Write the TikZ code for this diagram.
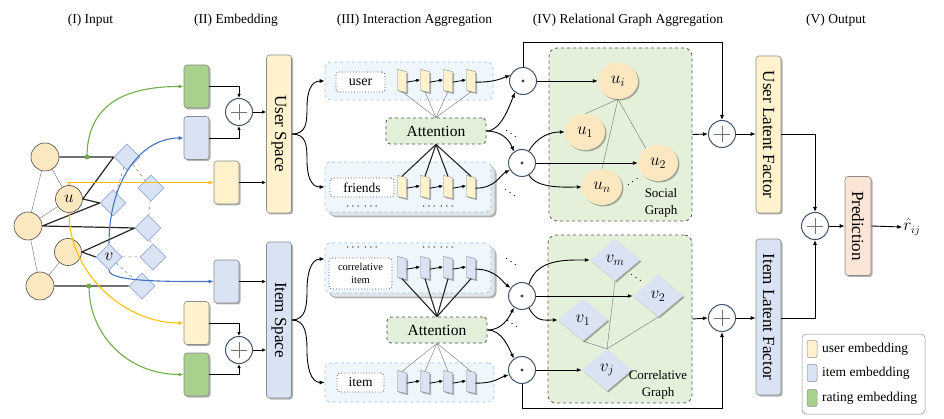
\documentclass[tikz,border=0pt]{standalone}
\usepackage{fontspec}
\setmainfont{Liberation Serif}
\usetikzlibrary{shapes.geometric,arrows.meta,shadows,calc}
\definecolor{ufill}{HTML}{FFF2CC}
\definecolor{cfill}{HTML}{FCE8C0}
\definecolor{ifill}{HTML}{DAE3F3}
\definecolor{gfill}{HTML}{A9D18E}
\definecolor{pfill}{HTML}{FBE5D6}
\definecolor{bord}{HTML}{8C8C8C}
\definecolor{opc}{HTML}{44546A}
\definecolor{ggreen}{HTML}{70AD47}
\definecolor{gblue}{HTML}{4472C4}
\definecolor{gyellow}{HTML}{FFC000}
\definecolor{dbord}{HTML}{8FAADC}
\definecolor{lbox}{HTML}{F0F7FC}
\definecolor{lboxb}{HTML}{9DC3E6}
\definecolor{graphg}{HTML}{E4F0DA}
\definecolor{attg}{HTML}{E2F0D9}
\tikzset{
  shad/.style={drop shadow={shadow xshift=1.5pt,shadow yshift=-1.5pt,opacity=0.3,fill=black}},
  ttl/.style={font=\fontsize{13.5}{15}\selectfont},
  emb/.style={rectangle,rounded corners=3pt,draw=bord,line width=0.6pt,minimum width=25pt,minimum height=43pt,inner sep=0pt,shad},
  vbox/.style={rectangle,rounded corners=3pt,draw=bord,line width=0.6pt,rotate=-90,minimum height=25pt,inner sep=0pt,font=\fontsize{17}{19}\selectfont,shad},
  incirc/.style={circle,draw=black!70,line width=0.6pt,fill=cfill,minimum size=28pt,inner sep=0pt,font=\fontsize{17}{19}\selectfont},
  indiam/.style={diamond,draw=dbord,line width=0.6pt,fill=ifill,minimum width=26pt,minimum height=26pt,inner sep=0pt,font=\fontsize{17}{19}\selectfont},
  opcirc/.style={circle,draw=opc,line width=1pt,fill=white,minimum size=27pt,inner sep=0pt},
  plusc/.style={opcirc,path picture={\draw[black!55,line width=0.6pt]
      ([xshift=-8pt]path picture bounding box.center) -- ([xshift=8pt]path picture bounding box.center)
      ([yshift=-8pt]path picture bounding box.center) -- ([yshift=8pt]path picture bounding box.center);}},
  dotc/.style={opcirc,path picture={\fill[black!75] (path picture bounding box.center) circle[radius=1.6pt];}},
  conn/.style={line width=0.9pt,-{Latex[length=5pt,width=4pt]}},
  sconn/.style={line width=0.8pt,-{Latex[length=4pt,width=3.5pt]}},
  thinln/.style={draw=black!55,line width=0.4pt},
  bk/.style={line width=1.2pt,black!85},
  thk/.style={line width=1.1pt,black!85},
  dsh/.style={draw=black!50,dashed,line width=0.5pt},
  gcurve/.style={draw=ggreen,line width=1.1pt,-{Latex[length=5pt,width=4pt]}},
  bcurve/.style={draw=gblue,line width=1.1pt,-{Latex[length=5pt,width=4pt]}},
  ycurve/.style={draw=gyellow,line width=1.1pt,-{Latex[length=5pt,width=4pt]}},
  ibox/.style={rectangle,rounded corners=6pt,draw=lboxb,dashed,line width=0.6pt,fill=lbox,inner sep=0pt},
  iback/.style={rectangle,rounded corners=6pt,draw=black!30,line width=0.6pt,fill=lbox!85!gray,inner sep=0pt,shad},
  lbl/.style={rectangle,rounded corners=3pt,draw=black!70,dotted,line width=0.8pt,fill=white,inner sep=0pt},
  slab/.style={rectangle,draw=black!45,line width=0.4pt,minimum width=9pt,minimum height=21pt,inner sep=0pt,yslant=-0.25,shad},
  attn/.style={rectangle,rounded corners=4pt,draw=black!70,dashed,line width=0.8pt,fill=attg,minimum width=100pt,minimum height=26pt,inner sep=0pt,font=\fontsize{15.5}{17}\selectfont},
  gbox/.style={rectangle,rounded corners=8pt,draw=black!65,dashed,line width=0.8pt,fill=graphg,inner sep=0pt},
  gell/.style={ellipse,fill=cfill,minimum width=40pt,minimum height=36pt,inner sep=0pt,font=\fontsize{18}{20}\selectfont,shad},
  gdiam/.style={diamond,fill=ifill,minimum width=50pt,minimum height=42pt,inner sep=0pt,font=\fontsize{18}{20}\selectfont,shad},
  gtxt/.style={align=center,font=\fontsize{13}{17}\selectfont,inner sep=0pt},
  dots/.style={font=\fontsize{13}{13}\selectfont,inner sep=0pt},
  swatch/.style={rectangle,rounded corners=2pt,draw=bord,line width=0.5pt,minimum width=10pt,minimum height=17pt,inner sep=0pt},
  legtxt/.style={anchor=west,font=\fontsize{13.5}{15}\selectfont,inner sep=0pt}
}
\begin{document}
\begin{tikzpicture}[x=1pt,y=-1pt]
\useasboundingbox (0,0) rectangle (944,419);
% titles
\node[ttl] (t1) at (90.5,20) {(I) Input};
\node[ttl] (t2) at (236,20) {(II) Embedding};
\node[ttl] (t3) at (414.5,20) {(III) Interaction Aggregation};
\node[ttl] (t4) at (628,20) {(IV) Relational Graph Aggregation};
\node[ttl] (t5) at (836,20) {(V) Output};

% ---------- input graph
\node[incirc] (A) at (45,157) {};
\node[incirc,minimum size=27pt] (U) at (69,199) {$u$};
\node[incirc] (B) at (28,226) {};
\node[incirc,minimum size=27pt] (C) at (68,252) {};
\node[incirc] (D) at (40,286) {};
\node[indiam] (d1) at (127,157) {};
\node[indiam] (d2) at (151,188) {};
\node[indiam] (d3) at (113,203) {};
\node[indiam] (d4) at (148,228) {};
\node[indiam] (dv) at (109,257) {$v$};
\node[indiam] (d6) at (153,257) {};
\node[indiam] (d7) at (142,286) {};
\draw[thinln] (A) -- (U) (A) -- (B) (U) -- (B) (B) -- (D) (C) -- (D);
\draw[bk] (A.east) -- (d1.west) (U.east) -- (d1.west) (U.east) -- (d3.west)
  (B.east) -- (d3.west) (B.east) -- (d4.west) (C.east) -- (d4.west) (C.east) -- (dv.west) (D.east) -- (d7.west);
\draw[dsh] (d1) -- (d2) (d1) -- (d3) (d2) -- (d4) (d4) -- (d6) (dv) -- (d6) (dv) -- (d7);
\coordinate (g1) at (87,157);
\coordinate (g2) at (89,286);
\fill[ggreen] (g1) circle[radius=2.5pt];
\fill[ggreen] (g2) circle[radius=2.5pt];

% ---------- embedding
\node[emb,fill=gfill] (ge1) at (196.5,86.5) {};
\node[emb,fill=ifill] (ie1) at (196.5,138) {};
\node[emb,fill=ufill] (ye1) at (226.5,182.5) {};
\node[plusc] (p1) at (239,112) {};
\node[emb,fill=ifill] (ie2) at (226.5,281.5) {};
\node[emb,fill=ufill] (ye2) at (196.5,323) {};
\node[emb,fill=gfill] (ge2) at (196.5,374.5) {};
\node[plusc] (p2) at (239,350) {};
\node[vbox,fill=ufill,minimum width=158pt] (US) at (279,134) {User Space};
\node[vbox,fill=ifill,minimum width=156pt] (IS) at (279,320) {Item Space};

% colored curves
\draw[gcurve] (g1) .. controls +(0,-55) and +(-55,0) .. (ge1.west);
\draw[bcurve] (dv.north) .. controls +(0,-60) and +(-45,0) .. (ie1.west);
\draw[bcurve] (dv.south) .. controls +(0,12) and +(-40,0) .. (ie2.west);
\draw[ycurve] (U.north) |- (ye1.west);
\draw[ycurve] (U.south) .. controls +(0,60) and +(-60,0) .. (ye2.west);
\draw[gcurve] (g2) .. controls +(0,50) and +(-55,0) .. (ge2.west);

\draw[sconn] (ge1.east) -| (p1.north);
\draw[sconn] (ie1.east) -| (p1.south);
\draw[sconn] (p1.east) -- (p1.east -| US.south);
\draw[sconn] (ye1.east) -- (ye1.east -| US.south);
\draw[sconn] (ie2.east) -- (ie2.east -| IS.south);
\draw[sconn] (ye2.east) -| (p2.north);
\draw[sconn] (ge2.east) -| (p2.south);
\draw[sconn] (p2.east) -- (p2.east -| IS.south);

% ---------- interaction boxes
\node[ibox,minimum width=168pt,minimum height=38pt] (ub) at (409,81) {};
\node[iback,minimum width=166pt,minimum height=50pt] (fbb) at (412,191) {};
\node[ibox,minimum width=166pt,minimum height=50pt] (fb) at (408,187) {};
\node[iback,minimum width=166pt,minimum height=50pt] (cbb) at (412,272) {};
\node[ibox,minimum width=166pt,minimum height=50pt] (cb) at (408,268) {};
\node[ibox,minimum width=169pt,minimum height=39pt] (ib) at (409.5,382.5) {};
\node[lbl,minimum width=49pt,minimum height=20pt,font=\fontsize{14}{16}\selectfont] (ul) at (360.5,82) {user};
\node[lbl,minimum width=64pt,minimum height=19pt,font=\fontsize{13.5}{15}\selectfont] (fl) at (362,187.5) {friends};
\node[lbl,minimum width=63pt,minimum height=31pt,align=center,font=\fontsize{10.5}{12.5}\selectfont] (cl) at (360.5,273.5) {correlative\\item};
\node[lbl,minimum width=47pt,minimum height=19pt,font=\fontsize{13.5}{15}\selectfont] (il) at (360.5,382.5) {item};
\node[dots] (fd1) at (362,207) {$\cdots\,\cdots$};
\node[dots] (fd2) at (438,207) {$\cdots\,\cdots$};
\node[dots] (cd1) at (362,248) {$\cdots\,\cdots$};
\node[dots] (cd2) at (438,248) {$\cdots\,\cdots$};
\foreach \i/\x in {1/402,2/425,3/448,4/471}{
  \node[slab,fill=ufill] (ur\i) at (\x,81) {};
  \node[slab,fill=ufill] (fr\i) at (\x,187) {};
  \node[slab,fill=ifill] (cr\i) at (\x,268) {};
  \node[slab,fill=ifill] (ir\i) at (\x,382) {};
}
\foreach \i/\j in {1/2,2/3,3/4}{
  \draw[sconn] (ur\i.east) -- (ur\j.west);
  \draw[sconn] (fr\i.east) -- (fr\j.west);
  \draw[sconn] (cr\i.east) -- (cr\j.west);
  \draw[sconn] (ir\i.east) -- (ir\j.west);
}
\node[attn] (at1) at (436,131) {Attention};
\node[attn] (at2) at (437,330) {Attention};
\foreach \i in {1,...,4}{
  \draw[thinln] (at1.north) -- (ur\i.south);
  \draw[thk] (at1.south) -- (fr\i.north);
  \draw[thk] (at2.north) -- (cr\i.south);
  \draw[thinln] (at2.south) -- (ir\i.north);
}
% braces
\coordinate (bu1) at (307,108);
\coordinate (bu2) at (307,160);
\coordinate (bi1) at (307,290);
\coordinate (bi2) at (307,351);
\draw[conn] (US.north) .. controls +(14,0) and +(0,16) .. (bu1) .. controls +(0,-16) and +(-14,0) .. (ub.west);
\draw[conn] (US.north) .. controls +(14,0) and +(0,-16) .. (bu2) .. controls +(0,16) and +(-14,0) .. (fb.west);
\draw[conn] (IS.north) .. controls +(14,0) and +(0,16) .. (bi1) .. controls +(0,-16) and +(-14,0) .. ([yshift=9pt]cb.west);
\draw[conn] (IS.north) .. controls +(14,0) and +(0,-16) .. (bi2) .. controls +(0,16) and +(-14,0) .. (ib.west);

% ---------- graph boxes
\node[gbox,minimum width=143pt,minimum height=173pt] (sg) at (620.5,134.5) {};
\node[gbox,minimum width=144pt,minimum height=168pt] (cg) at (620,319) {};

% dot circles
\node[dotc] (c1) at (523,81) {};
\node[dotc] (c2) at (522,163) {};
\node[dotc] (c3) at (522,296) {};
\node[dotc] (c4) at (522,370) {};
\draw[conn] (ur4.east) .. controls +(18,0) and +(-10,4) .. (c1.155);
\draw[conn] (at1.east) .. controls +(15,0) and +(-5,12) .. (c1.235);
\draw[conn] (at1.east) .. controls +(15,0) and +(-5,-12) .. (c2.125);
\draw[conn] (fr4.east) .. controls +(20,0) and +(-10,5) .. (c2.210);
\draw[conn] (cr4.east) .. controls +(20,0) and +(-8,-6) .. (c3.145);
\draw[conn] (at2.east) .. controls +(15,0) and +(-5,10) .. (c3.235);
\draw[conn] (at2.east) .. controls +(15,0) and +(-5,-10) .. (c4.125);
\draw[conn] (ir4.east) .. controls +(20,0) and +(-10,3) .. (c4.200);
\node[dots,rotate=-35] (e1) at (511,134) {$\cdots$};
\node[dots,rotate=-35] (e2) at (510,193) {$\cdots$};
\node[dots,rotate=-35] (e3) at (511,262) {$\cdots$};
\node[dots,rotate=-35] (e4) at (512,324) {$\cdots$};

% social graph
\node[gell] (ui) at (618,81) {$u_i$};
\node[gell] (u1) at (585,132) {$u_1$};
\node[gell] (u2) at (658,163) {$u_2$};
\node[gell] (un) at (602,187) {$u_n$};
\node[dots,rotate=35] (sd) at (633,182) {$\cdots$};
\node[gtxt] (sgt) at (661,203) {Social\\Graph};
\draw[thinln] (ui.south) -- (u1.north) (ui.south) -- (un.north) (ui.south) -- (u2.130);
\draw[conn] (c1.east) -- (ui.west);
\draw[conn] (c2.60) .. controls +(8,-14) and +(-15,0) .. (u1.west);
\draw[conn] (c2.east) -- (u2.west);
\draw[conn] (c2.-60) .. controls +(8,14) and +(-15,0) .. (un.west);

% correlative graph
\node[gdiam] (vm) at (615,260) {$v_m$};
\node[gdiam] (v2) at (658,296) {$v_2$};
\node[gdiam] (v1) at (583,320) {$v_1$};
\node[gdiam] (vj) at (607,370) {$v_j$};
\node[dots,rotate=-35] (cdd) at (636,278) {$\cdots$};
\node[gtxt] (cgt) at (658,385) {Correlative\\Graph};
\draw[thinln] (vj.north) -- (v1.south) (vj.north) -- (vm.south) (vj.north) -- (v2.south);
\draw[conn] (c3.60) .. controls +(8,-25) and +(-25,0) .. (vm.west);
\draw[conn] (c3.east) -- (v2.west);
\draw[conn] (c3.-60) .. controls +(8,14) and +(-15,0) .. (v1.west);
\draw[conn] (c4.east) -- (vj.west);

% ---------- output
\node[plusc] (pl1) at (722,134) {};
\node[plusc] (pl3) at (722,318) {};
\node[plusc] (pl2) at (815,226) {};
\node[vbox,fill=ufill,minimum width=157pt] (ULF) at (768.5,134.5) {User Latent Factor};
\node[vbox,fill=ifill,minimum width=156pt] (ILF) at (768.5,317) {Item Latent Factor};
\node[vbox,fill=pfill,minimum width=99pt,minimum height=26pt] (PR) at (858,226) {Prediction};
\node[inner sep=1pt,font=\fontsize{16}{18}\selectfont] (rh) at (912,227) {$\hat{r}_{ij}$};
\coordinate (tl) at (523,42);
\coordinate (bl) at (522,408);
\draw[conn] (c1.north) -- (tl) -| (pl1.north);
\draw[conn] (c4.south) -- (bl) -| (pl3.south);
\draw[conn] (sg.east) -- (pl1.west);
\draw[conn] (cg.east) -- (pl3.west);
\draw[conn] (pl1.east) -- (pl1.east -| ULF.south);
\draw[conn] (pl3.east) -- (pl3.east -| ILF.south);
\draw[conn] (ULF.north |- pl1) -| (pl2.north);
\draw[conn] (ILF.north |- pl3) -| (pl2.south);
\draw[conn] (pl2.east) -- (pl2.east -| PR.south);
\draw[conn] (PR.north) -- (rh.west);

% legend
\node[draw=bord,rounded corners=4pt,fill=white,line width=0.5pt,minimum width=123pt,minimum height=80pt,inner sep=0pt] (leg) at (863.5,374) {};
\node[swatch,fill=ufill] (s1) at (812,349) {};
\node[swatch,fill=ifill] (s2) at (812,373) {};
\node[swatch,fill=gfill] (s3) at (812,398) {};
\node[legtxt] (l1) at (822,349) {user embedding};
\node[legtxt] (l2) at (822,373) {item embedding};
\node[legtxt] (l3) at (822,398) {rating embedding};
\end{tikzpicture}
\end{document}
